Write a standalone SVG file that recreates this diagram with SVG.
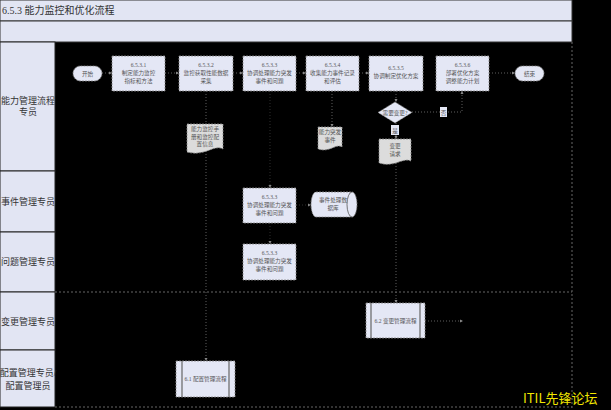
<svg xmlns="http://www.w3.org/2000/svg" width="611" height="410" viewBox="0 0 611 410">
<defs>
<style>
.hdr{fill:#e2e5f3;stroke:#333;stroke-width:1}
.lane{fill:#e2e5f3;stroke:#222;stroke-width:1}
.box{fill:#e4e7f5;stroke:#888;stroke-width:0.8;stroke-dasharray:2,1}
.doc{fill:#dcdcdc;stroke:#888;stroke-width:0.8;stroke-dasharray:2,1}
.t{font-family:"Liberation Serif","Noto Sans CJK SC",serif;fill:#333}
.bt{font-family:"Liberation Serif","Noto Sans CJK SC",serif;font-size:5.6px;fill:#555;text-anchor:middle}
.ll{font-family:"Liberation Serif","Noto Sans CJK SC",serif;font-size:9px;fill:#333;text-anchor:middle}
.sep{stroke:#666;stroke-width:1;stroke-dasharray:2,2;fill:none}
.c{stroke:#777;stroke-width:0.8;stroke-dasharray:1,2;fill:none;marker-end:url(#a)}
.cd{stroke:#3a3a3a;stroke-width:0.8;stroke-dasharray:1,2;fill:none;marker-end:url(#a)}
.bar{stroke:#666;stroke-width:1.2}
</style>
<marker id="a" viewBox="0 0 6 6" refX="6" refY="3" markerWidth="4" markerHeight="4" orient="auto"><path d="M0,0 L6,3 L0,6 Z" fill="#888"/></marker>
</defs>
<rect width="611" height="410" fill="#000"/>

<g id="header">
<rect class="hdr" x="0" y="0" width="572" height="21"/>
<rect class="hdr" x="0" y="21" width="572" height="21"/>
<text class="t" x="2" y="14" font-size="10">6.5.3 能力监控和优化流程</text>
</g>

<g id="lanes">
<rect class="lane" x="0" y="42" width="55" height="129"/>
<rect class="lane" x="0" y="171" width="55" height="61"/>
<rect class="lane" x="0" y="232" width="55" height="60"/>
<rect class="lane" x="0" y="292" width="55" height="58"/>
<rect class="lane" x="0" y="350" width="55" height="57"/>
<text class="ll" x="28" y="104">能力管理流程</text>
<text class="ll" x="28" y="115">专员</text>
<text class="ll" x="28" y="205">事件管理专员</text>
<text class="ll" x="28" y="265">问题管理专员</text>
<text class="ll" x="28" y="325">变更管理专员</text>
<text class="ll" x="28" y="376">配置管理专员/</text>
<text class="ll" x="28" y="389">配置管理员</text>
<path class="sep" d="M55,292 H572 M55,407 H572 M572,42 V410"/>
</g>

<g id="connectors">
<path class="c" d="M102,73 H112"/>
<path class="c" d="M165,73 H179"/>
<path class="c" d="M233,73 H243"/>
<path class="c" d="M296,73 H306"/>
<path class="c" d="M359,73 H369"/>
<path class="c" d="M489,73 H515"/>
<path class="c" d="M206,91 V361"/>
<path class="c" d="M396,91 V102"/>
<path class="c" d="M396,123 V139"/>
<path class="c" d="M396,163 V303"/>
<path class="c" d="M412,112 H462 V91"/>
<path class="c" d="M332,91 V127"/>
<path class="cd" d="M270,91 V188"/>
<path class="cd" d="M270,223 V244"/>
<path class="cd" d="M296,205 H311"/>
<path class="c" d="M425,321 H463"/>
</g>

<g id="start">
<rect class="box" x="73" y="66" width="29" height="15" rx="7.5"/>
<text class="bt" x="87.5" y="75.5">开始</text>
</g>
<g id="n6531">
<rect class="box" x="112" y="56" width="53" height="35"/>
<text class="bt" x="138.5" y="67">6.5.3.1</text>
<text class="bt" x="138.5" y="75">制定能力监控</text>
<text class="bt" x="138.5" y="83">指标和方法</text>
</g>
<g id="n6532">
<rect class="box" x="179" y="56" width="54" height="35"/>
<text class="bt" x="206" y="67">6.5.3.2</text>
<text class="bt" x="206" y="75">监控获取性能数据</text>
<text class="bt" x="206" y="83">采集</text>
</g>
<g id="n6533">
<rect class="box" x="243" y="56" width="53" height="35"/>
<text class="bt" x="269.5" y="67">6.5.3.3</text>
<text class="bt" x="269.5" y="75">协调处理能力突发</text>
<text class="bt" x="269.5" y="83">事件和问题</text>
</g>
<g id="n6534">
<rect class="box" x="306" y="56" width="53" height="35"/>
<text class="bt" x="332.5" y="67">6.5.3.4</text>
<text class="bt" x="332.5" y="75">收集能力事件记录</text>
<text class="bt" x="332.5" y="83">和评估</text>
</g>
<g id="n6535">
<rect class="box" x="369" y="56" width="54" height="35"/>
<text class="bt" x="396" y="70">6.5.3.5</text>
<text class="bt" x="396" y="78">协调制定优化方案</text>
</g>
<g id="n6536">
<rect class="box" x="436" y="56" width="53" height="35"/>
<text class="bt" x="462.5" y="67">6.5.3.6</text>
<text class="bt" x="462.5" y="75">部署优化方案</text>
<text class="bt" x="462.5" y="83">调整能力计划</text>
</g>
<g id="end">
<rect class="box" x="515" y="66" width="29" height="15" rx="7.5"/>
<text class="bt" x="529.5" y="75.5">结束</text>
</g>

<g id="doc1">
<path class="doc" d="M187,124 H223 V149 C214,144 205,157 187,152 Z"/>
<text class="bt" x="205" y="131">能力监控手</text>
<text class="bt" x="205" y="138.5">册和监控配</text>
<text class="bt" x="205" y="146">置信息</text>
</g>
<g id="doc2">
<path class="doc" d="M318,127 H342 V147 C336,143 330,153 318,149 Z"/>
<text class="bt" x="330" y="134">能力突发</text>
<text class="bt" x="330" y="142">事件</text>
</g>
<g id="decision">
<path class="box" d="M395,102 L412,112.5 L395,123 L378,112.5 Z"/>
<text class="bt" x="395" y="114.5" font-size="5">需要变更?</text>
</g>
<g id="labels">
<rect x="391" y="125" width="8" height="10" fill="#e4e7f5"/>
<text class="bt" x="395" y="132.5">是</text>
<rect x="440" y="107" width="7" height="10" fill="#e4e7f5"/>
<text class="bt" x="443.5" y="114.5">否</text>
</g>
<g id="doc3">
<path class="doc" d="M379,139 H411 V161 C403,157 395,168 379,163 Z"/>
<text class="bt" x="395" y="148">变更</text>
<text class="bt" x="395" y="156">请求</text>
</g>

<g id="n6533e">
<rect class="box" x="243" y="188" width="53" height="35"/>
<text class="bt" x="269.5" y="199">6.5.3.3</text>
<text class="bt" x="269.5" y="207">协调处理能力突发</text>
<text class="bt" x="269.5" y="215">事件和问题</text>
</g>
<g id="db">
<path class="box" d="M316,192 H352 A5,12.5 0 0 1 352,217 H316 A5,12.5 0 0 1 316,192 Z"/>
<path d="M352,192 A5,12.5 0 0 0 352,217" fill="none" stroke="#555" stroke-width="0.8"/>
<text class="bt" x="333" y="202">事件处理数</text>
<text class="bt" x="333" y="210">据库</text>
</g>
<g id="n6533p">
<rect class="box" x="243" y="244" width="53" height="36"/>
<text class="bt" x="269.5" y="255">6.5.3.3</text>
<text class="bt" x="269.5" y="263">协调处理能力突发</text>
<text class="bt" x="269.5" y="271">事件和问题</text>
</g>
<g id="p62">
<rect class="box" x="366" y="303" width="59" height="35"/>
<path class="bar" d="M371,303 V338 M420,303 V338"/>
<text class="bt" x="395.5" y="323">6.2 变更管理流程</text>
</g>
<g id="p61">
<rect class="box" x="176" y="361" width="59" height="36"/>
<path class="bar" d="M182,361 V397 M229,361 V397"/>
<text class="bt" x="205.5" y="381">6.1 配置管理流程</text>
</g>

<text x="523" y="403" font-family="'Noto Sans CJK SC','Liberation Sans',sans-serif" font-size="13" fill="#f2e600">ITIL先锋论坛</text>
</svg>
